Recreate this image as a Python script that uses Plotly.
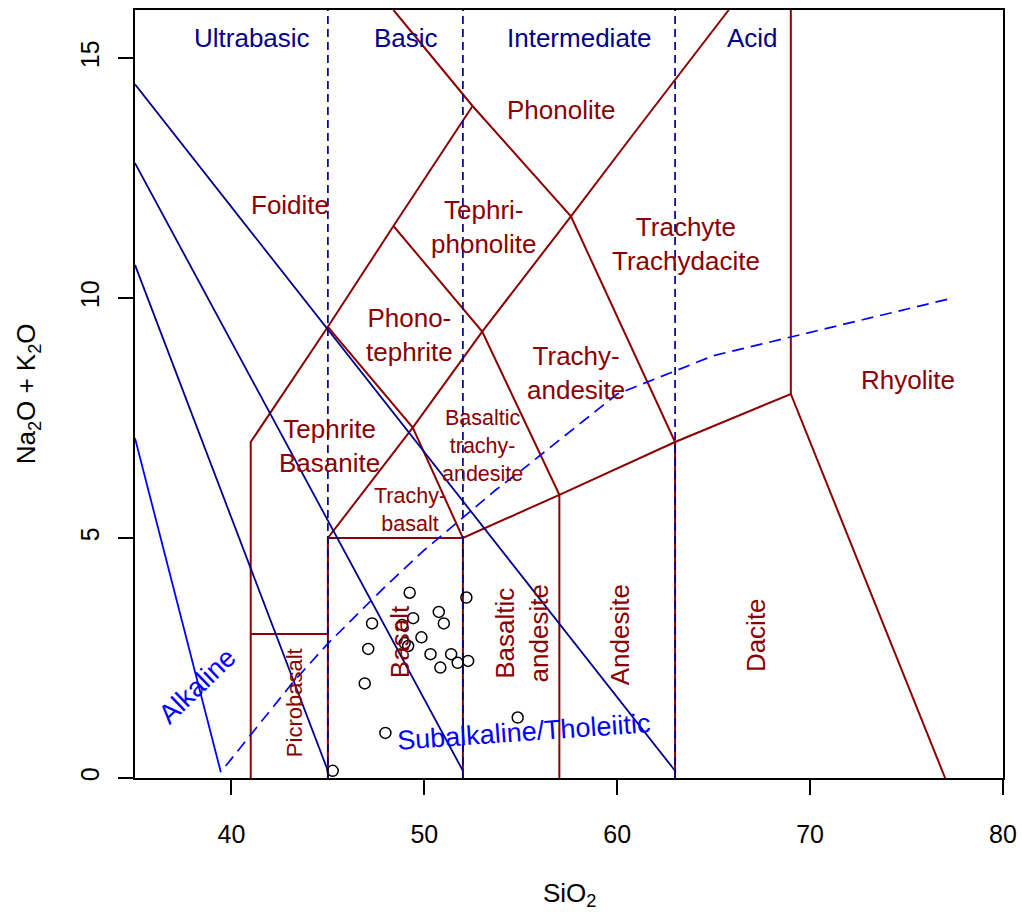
import plotly.graph_objects as go

# ---- sample analyses (wt%) ----
sio2 = [49.24, 52.18, 50.75, 49.42, 47.29, 51.01, 48.85, 49.85, 48.98, 49.16,
        47.09, 50.32, 51.39, 52.27, 51.73, 50.83, 46.91, 54.84, 47.98, 45.25]
total_alkali = [3.86, 3.76, 3.46, 3.33, 3.22, 3.22, 3.19, 2.93, 2.81, 2.75,
                2.69, 2.58, 2.58, 2.44, 2.40, 2.30, 1.97, 1.26, 0.94, 0.15]

# ---- TAS field boundaries ----
foidite_x = [41, 41, 45, 48.4, 52.5]
foidite_y = [0, 7, 9.4, 11.5, 14]
picro_x = [41, 45]
picro_y = [3, 3]
trachy_axis_x = [45, 45, 49.4, 53, 57.6, 61, 65.78]
trachy_axis_y = [0, 5, 7.3, 9.3, 11.7, 13.5, 16]
lower_x = [45, 52, 57, 63, 69, 77]
lower_y = [5, 5, 5.9, 7, 8, 0]
b52_x = [52, 52, 49.4, 45]
b52_y = [0, 5, 7.3, 9.4]
b57_x = [57, 57, 53, 48.4]
b57_y = [0, 5.9, 9.3, 11.5]
b63_x = [63, 63, 57.6, 52.5, 48.4]
b63_y = [0, 7, 11.7, 14, 16]
rhyolite_x = [69, 69]
rhyolite_y = [8, 16]

# ---- inclined reference lines ----
ref_a_x = [35, 63]
ref_a_y = [14.45, 0.15]
ref_b_x = [35, 52]
ref_b_y = [12.81, 0.15]
ref_c_x = [35, 45]
ref_c_y = [10.69, 0.15]
alk_x = [35, 39.45]
alk_y = [7.08, 0.12]

# Irvine & Baragar alkaline / subalkaline divide
ib_x = [39.7, 43.2, 45, 48, 50, 53.7, 55, 60, 65, 77.4]
ib_y = [0.25, 2.0, 2.8, 4.0, 4.75, 6.0, 6.4, 8.0, 8.8, 10.0]

# SiO2 class boundaries
class_bounds = [45, 52, 63]
class_names = ["Ultrabasic", "Basic", "Intermediate", "Acid"]
class_name_x = [41.07, 49.06, 58.05, 66.99]
class_name_y = 15.42

# ---- field names ----
field_names = ["Foidite", "Phonolite", "Tephri-<br>phonolite", "Trachyte<br>Trachydacite",
               "Phono-<br>tephrite", "Tephrite<br>Basanite", "Trachy-<br>andesite", "Rhyolite"]
field_x = [43.02, 57.10, 53.10, 63.58, 49.25, 45.10, 57.88, 75.07]
field_y = [11.94, 13.92, 11.48, 11.12, 9.22, 6.91, 8.44, 8.29]

small_names = ["Trachy-<br>basalt", "Basaltic<br>trachy-<br>andesite"]
small_x = [49.25, 53.0]
small_y = [5.58, 6.91]

vert_names = ["Basalt", "Basaltic<br>andesite", "Andesite", "Dacite"]
vert_x = [48.71, 55.06, 60.16, 67.23]
vert_y = [2.84, 3.01, 2.98, 2.97]

picro_name = "Picrobasalt"
picro_name_xy = (43.27, 1.57)

series_names = ["Alkaline", "Subalkaline/Tholeiitic"]
series_x = [38.22, 55.15]
series_y = [1.92, 0.95]
series_angle = [-44, -4]

FONT = "Liberation Sans, Arial, sans-serif"
DARKRED = "#8B0000"
NAVY = "#00008B"
BLUE = "#0000FF"

fig = go.Figure()


def add_line(x, y, color, width=2.0, dash="solid"):
    fig.add_trace(go.Scatter(x=x, y=y, mode="lines", hoverinfo="skip",
                             line=dict(color=color, width=width, dash=dash),
                             showlegend=False))


for xs, ys in [(foidite_x, foidite_y), (picro_x, picro_y), (trachy_axis_x, trachy_axis_y),
               (lower_x, lower_y), (b52_x, b52_y), (b57_x, b57_y), (b63_x, b63_y),
               (rhyolite_x, rhyolite_y)]:
    add_line(xs, ys, DARKRED, 2.0)

for xs, ys in [(ref_a_x, ref_a_y), (ref_b_x, ref_b_y), (ref_c_x, ref_c_y)]:
    add_line(xs, ys, NAVY, 1.8)
add_line(alk_x, alk_y, BLUE, 1.8)

for xb in class_bounds:
    add_line([xb, xb], [0, 16], NAVY, 1.7, dash="8px,5px")

add_line(ib_x, ib_y, BLUE, 1.7, dash="12px,7px")

fig.add_trace(go.Scatter(x=sio2, y=total_alkali, mode="markers", showlegend=False,
                         marker=dict(symbol="circle-open", size=11,
                                     color="black", line=dict(width=1.5, color="black"))))


def label(text, x, y, color, size, angle=0):
    fig.add_annotation(x=x, y=y, xref="x", yref="y", text=text, showarrow=False,
                       textangle=angle, xanchor="center", yanchor="middle",
                       font=dict(family=FONT, size=size, color=color))


for t, x in zip(class_names, class_name_x):
    label(t, x, class_name_y, NAVY, 26)
for t, x, y in zip(field_names, field_x, field_y):
    label(t, x, y, DARKRED, 26)
for t, x, y in zip(small_names, small_x, small_y):
    label(t, x, y, DARKRED, 21.5)
for t, x, y in zip(vert_names, vert_x, vert_y):
    label(t, x, y, DARKRED, 26, angle=-90)
label(picro_name, picro_name_xy[0], picro_name_xy[1], DARKRED, 22, angle=-90)
for t, x, y, a in zip(series_names, series_x, series_y, series_angle):
    label(t, x, y, BLUE, 27, angle=a)

# axis titles
fig.add_annotation(x=0.5, y=-0.152, xref="paper", yref="paper", showarrow=False,
                   text="SiO<sub>2</sub>", xanchor="center", yanchor="middle",
                   font=dict(family=FONT, size=26, color="black"))
fig.add_annotation(x=-0.124, y=0.5, xref="paper", yref="paper", showarrow=False,
                   text="Na<sub>2</sub>O + K<sub>2</sub>O", textangle=-90,
                   xanchor="center", yanchor="middle",
                   font=dict(family=FONT, size=26, color="black"))

axis_common = dict(ticks="outside", ticklen=15, tickwidth=1.5, tickcolor="black",
                   showline=True, linecolor="black", linewidth=1.5, mirror=True,
                   showgrid=False, zeroline=False, automargin=False,
                   tickfont=dict(family=FONT, size=25, color="black"))

fig.update_layout(
    width=1022, height=914,
    margin=dict(l=135, r=19, t=10, b=136, autoexpand=False),
    paper_bgcolor="white", plot_bgcolor="white",
    xaxis=dict(range=[35, 80], tickvals=[40, 50, 60, 70, 80], ticklabelstandoff=18,
               **axis_common),
    yaxis=dict(range=[0, 16], tickvals=[0, 5, 10, 15], tickangle=-90, ticklabelstandoff=9,
               **axis_common),
)

fig.write_html("out.html")
